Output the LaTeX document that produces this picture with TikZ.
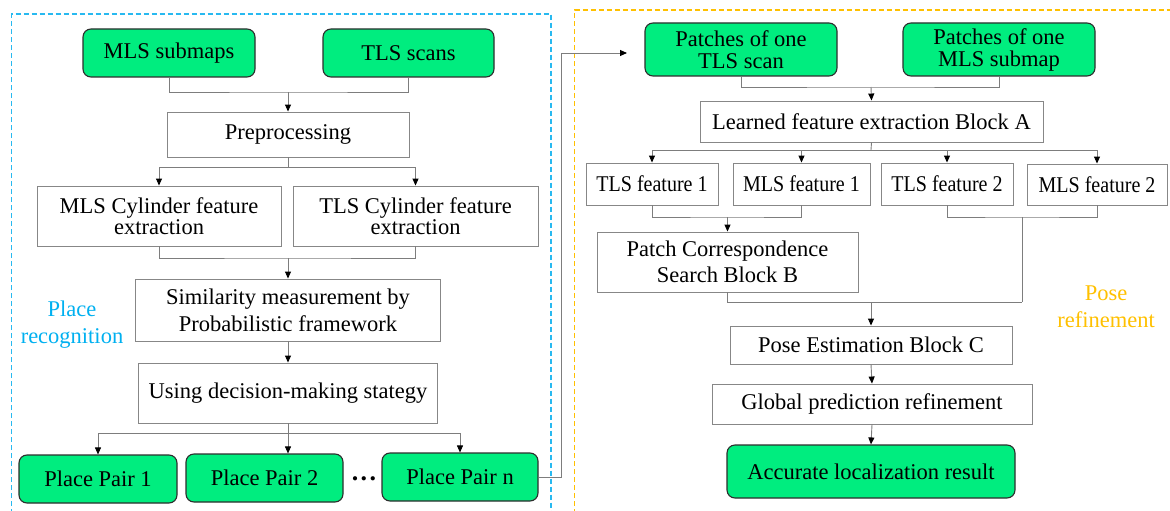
\documentclass[tikz,border=0pt]{standalone}
\usepackage{fontspec}
\setmainfont{Liberation Serif}
\newfontfamily\condfont{Liberation Serif}[FakeStretch=0.89]
\usetikzlibrary{arrows.meta}
\definecolor{gfill}{RGB}{0,237,127}
\definecolor{gbord}{RGB}{45,45,45}
\definecolor{bgray}{RGB}{135,135,135}
\definecolor{lgray}{RGB}{125,125,125}
\definecolor{bluedash}{RGB}{40,185,240}
\definecolor{bluetext}{RGB}{0,176,240}
\definecolor{orng}{RGB}{255,192,0}
\tikzset{
  every node/.style={font=\fontsize{22.5}{22}\selectfont, inner sep=0pt, align=center},
  gbox/.style={draw=gbord, fill=gfill, rounded corners=8pt, line width=1.1pt},
  wbox/.style={draw=bgray, fill=white, line width=0.9pt},
  small/.style={font=\condfont\fontsize{22.5}{22}\selectfont},
  conn/.style={draw=lgray, line width=0.9pt},
  arr/.style={conn, -{Triangle[length=7pt,width=6pt,color=black]}},
  zone/.style={line width=1.2pt, dash pattern=on 5pt off 3pt},
}
\begin{document}
\begin{tikzpicture}[x=1pt, y=-1pt]
\useasboundingbox (0,0) rectangle (1170,511);
\clip (0,0) rectangle (1170,511);
% zones
\draw[zone, draw=bluedash] (11.7,530) -- (11.7,14) -- (551,14) -- (551,530);
\draw[zone, draw=orng] (574.7,530) -- (574.7,10) -- (1190,10);
\node[text=bluetext, font=\fontsize{22.5}{27}\selectfont] (plbl) at (72,325) {Place\\recognition};
\node[text=orng, font=\fontsize{22.5}{27}\selectfont] (rlbl) at (1106,307) {Pose\\refinement};
% left panel
\node[gbox, minimum width=172pt, minimum height=48pt] (mls) at (169,53) {MLS submaps};
\node[gbox, minimum width=171pt, minimum height=48pt] (tls) at (408.5,53) {TLS scans};
\node[wbox, minimum width=242pt, minimum height=45pt] (pre) at (288,134.5) {Preprocessing};
\node[wbox, minimum width=244pt, minimum height=60pt, font=\fontsize{22.5}{21}\selectfont] (mcyl) at (159,216) {MLS Cylinder feature\\extraction};
\node[wbox, minimum width=245pt, minimum height=60pt, font=\fontsize{22.5}{21}\selectfont] (tcyl) at (415.5,216) {TLS Cylinder feature\\extraction};
\node[wbox, minimum width=305pt, minimum height=62pt, font=\fontsize{22.5}{27}\selectfont] (sim) at (288,310) {Similarity measurement by\\Probabilistic framework};
\node[wbox, minimum width=299pt, minimum height=60pt] (use) at (288,393) {Using decision-making stategy};
\node[gbox, minimum width=158pt, minimum height=48pt] (pp1) at (98,479) {Place Pair 1};
\node[gbox, minimum width=157pt, minimum height=48pt] (pp2) at (264.5,478) {Place Pair 2};
\node[gbox, minimum width=156pt, minimum height=48pt] (ppn) at (460,477) {Place Pair n};
\node[font=\fontsize{26}{26}\bfseries] (dots) at (364,479) {.\kern2.5pt.\kern2.5pt.};
\coordinate (j1) at (288,92);
\coordinate (j2) at (288,167);
\coordinate (j3) at (288,258);
\coordinate (j4) at (288,433);
\draw[conn] (mls.south) |- (j1) -| (tls.south);
\draw[arr] (j1) -- (pre.north);
\draw[conn] (pre.south) -- (j2);
\draw[arr] (j2) -| (mcyl.north);
\draw[arr] (j2) -| (tcyl.north);
\draw[conn] (mcyl.south) |- (j3) -| (tcyl.south);
\draw[arr] (j3) -- (sim.north);
\draw[arr] (sim.south) -- (use.north);
\draw[conn] (use.south) -- (j4);
\draw[arr] (j4) -| (pp1.north);
\draw[arr] (j4) -- (j4 |- pp2.north);
\draw[arr] (j4) -| (ppn.north);
% link
\coordinate (tip) at (627,53);
\draw[arr] (ppn.east) -- ++(23,0) |- (tip);
% right panel
\node[gbox, minimum width=192pt, minimum height=53pt] (ptls) at (741,49.5) {Patches of one\\TLS scan};
\node[gbox, minimum width=192pt, minimum height=53pt] (pmls) at (999,49.5) {Patches of one\\MLS submap};
\node[wbox, minimum width=343pt, minimum height=41pt] (learn) at (871.5,121.5) {Learned feature extraction Block A};
\node[wbox, small, minimum width=132pt, minimum height=42pt] (tf1) at (652,184) {TLS feature 1};
\node[wbox, small, minimum width=137pt, minimum height=42pt] (mf1) at (801.5,184) {MLS feature 1};
\node[wbox, small, minimum width=132pt, minimum height=42pt] (tf2) at (947,184) {TLS feature 2};
\node[wbox, small, minimum width=140pt, minimum height=41pt] (mf2) at (1097,184.5) {MLS feature 2};
\node[wbox, minimum width=261pt, minimum height=60pt, font=\fontsize{22.5}{26}\selectfont] (patch) at (727.5,262) {Patch Correspondence\\Search Block B};
\node[wbox, minimum width=282pt, minimum height=38pt] (pose) at (871,345) {Pose Estimation Block C};
\node[wbox, minimum width=320pt, minimum height=40pt] (glob) at (872,404) {Global prediction refinement};
\node[gbox, minimum width=288pt, minimum height=53pt] (acc) at (871,471.5) {Accurate localization result};
\coordinate (j5) at (871,87);
\coordinate (j6) at (871,150);
\coordinate (j7) at (727.5,217);
\coordinate (j8) at (1022,217);
\coordinate (j9) at (871,302);
\coordinate (j10) at (1022,302);
\draw[conn] (ptls.south) |- (j5) -| (pmls.south);
\draw[arr] (j5) -- (learn.north);
\draw[conn] (learn.south) -- (j6);
\draw[arr] (j6) -| (tf1.north);
\draw[arr] (j6) -| (mf1.north);
\draw[arr] (j6) -| (tf2.north);
\draw[arr] (j6) -| (mf2.north);
\draw[conn] (tf1.south) |- (j7) -| (mf1.south);
\draw[arr] (j7) -- (patch.north);
\draw[conn] (tf2.south) |- (j8) -| (mf2.south);
\draw[conn] (j8) -- (j10);
\draw[conn] (patch.south) |- (j10);
\draw[arr] (j9) -- (pose.north);
\draw[arr] (pose.south) -- (glob.north);
\draw[arr] (glob.south) -- (acc.north);
\end{tikzpicture}
\end{document}
